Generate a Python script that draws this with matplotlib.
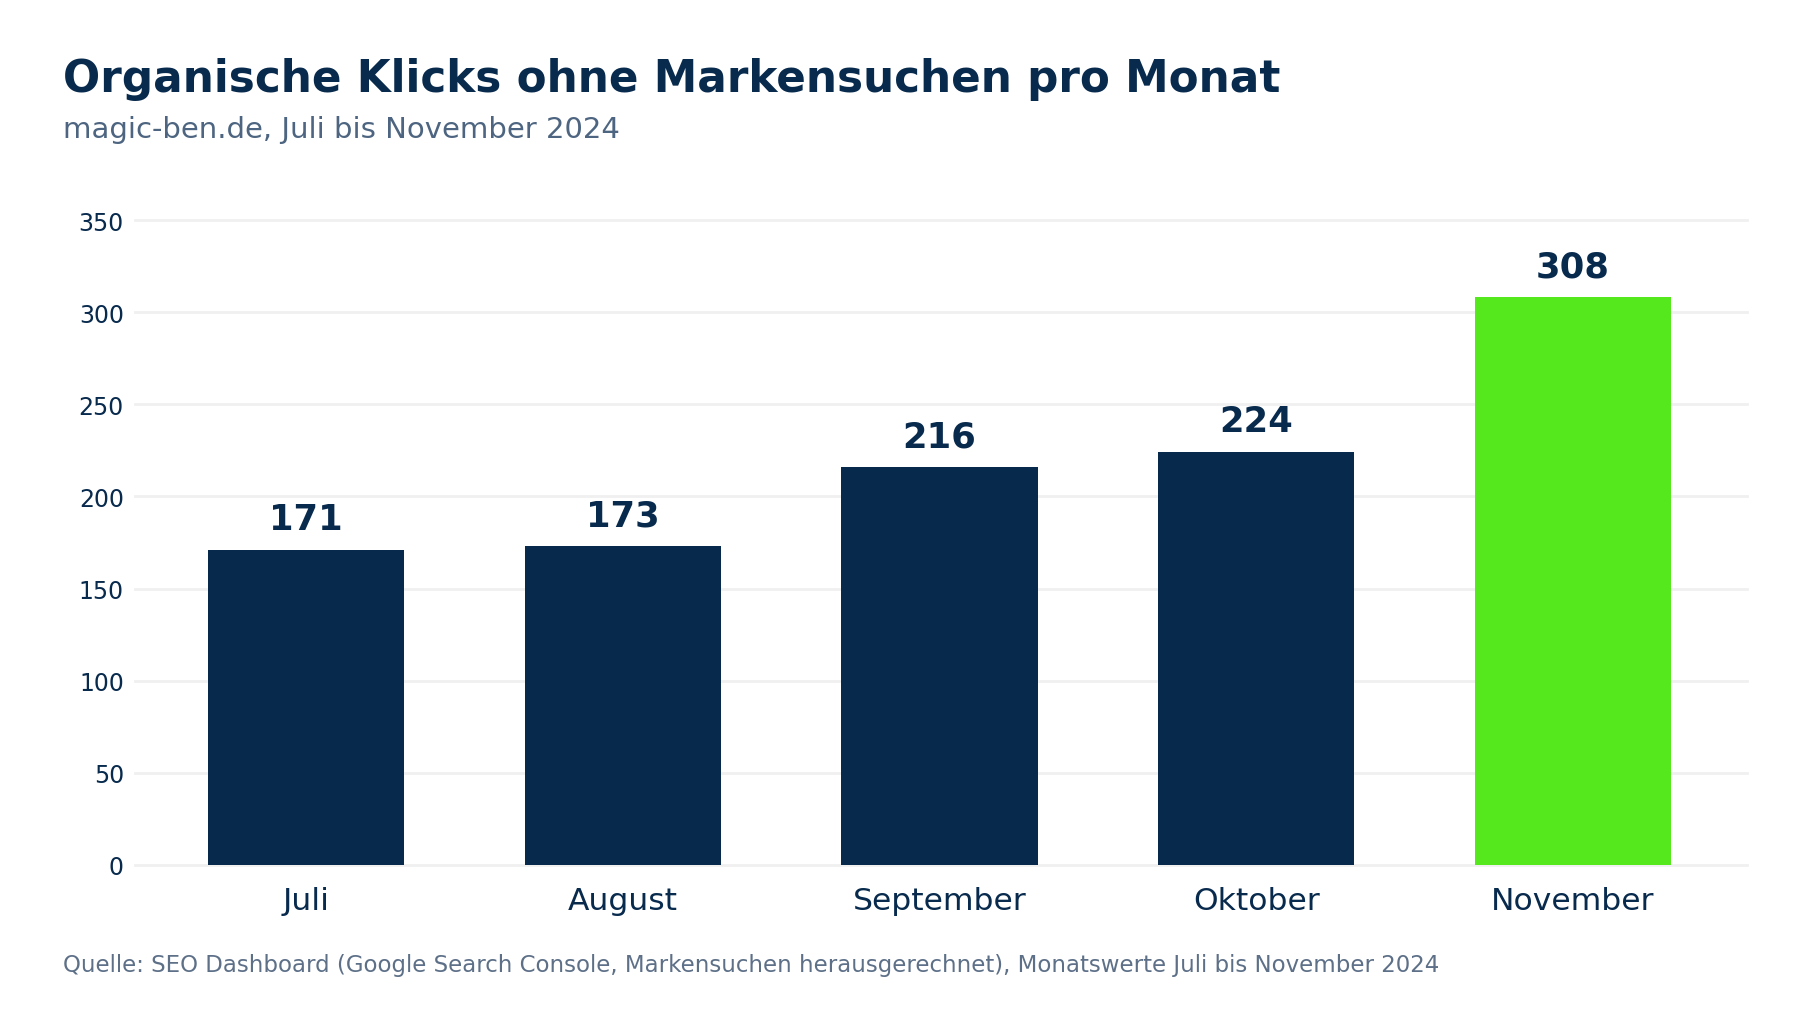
import matplotlib
matplotlib.use("Agg")
from matplotlib import pyplot as plt

months = ["Juli", "August", "September", "Oktober", "November"]
clicks = [171, 173, 216, 224, 308]
colors = ["#072a4c", "#072a4c", "#072a4c", "#072a4c", "#55e81c"]
yticks = [0, 50, 100, 150, 200, 250, 300, 350]

navy = "#082a4d"

fig = plt.figure(figsize=(18, 10.12), dpi=100)
ax = fig.add_axes([0.075, 0.1443, 0.8956, 0.6373])

bars = ax.bar(range(len(months)), clicks, width=0.62, color=colors, zorder=3)
for rect, v in zip(bars, clicks):
    ax.annotate(str(v), (rect.get_x() + rect.get_width() / 2, v),
                xytext=(0, 10), textcoords="offset points",
                ha="center", va="bottom", fontsize=25.5, fontweight="bold", color=navy)

ax.set_xlim(-0.54, 4.55)
ax.set_ylim(0, 350)
ax.set_yticks(yticks)
ax.set_xticks(range(len(months)))
ax.set_xticklabels(months)
ax.tick_params(axis="x", length=0, pad=15, labelsize=22.6, labelcolor=navy)
ax.tick_params(axis="y", length=0, pad=8, labelsize=17, labelcolor=navy)
ax.grid(axis="y", color="#f0f0f0", linewidth=2, zorder=0)
for gl in ax.get_ygridlines():
    gl.set_clip_on(False)
for s in ax.spines.values():
    s.set_visible(False)

fig.text(0.035, 0.909, "Organische Klicks ohne Markensuchen pro Monat",
         fontsize=31.5, fontweight="bold", color=navy, va="baseline")
fig.text(0.035, 0.864, "magic-ben.de, Juli bis November 2024",
         fontsize=21, color="#4d6580", va="baseline")
fig.text(0.035, 0.0395,
         "Quelle: SEO Dashboard (Google Search Console, Markensuchen herausgerechnet), Monatswerte Juli bis November 2024",
         fontsize=16.5, color="#5d7088", va="baseline")

fig.savefig("out.png", dpi=100, facecolor="white")
